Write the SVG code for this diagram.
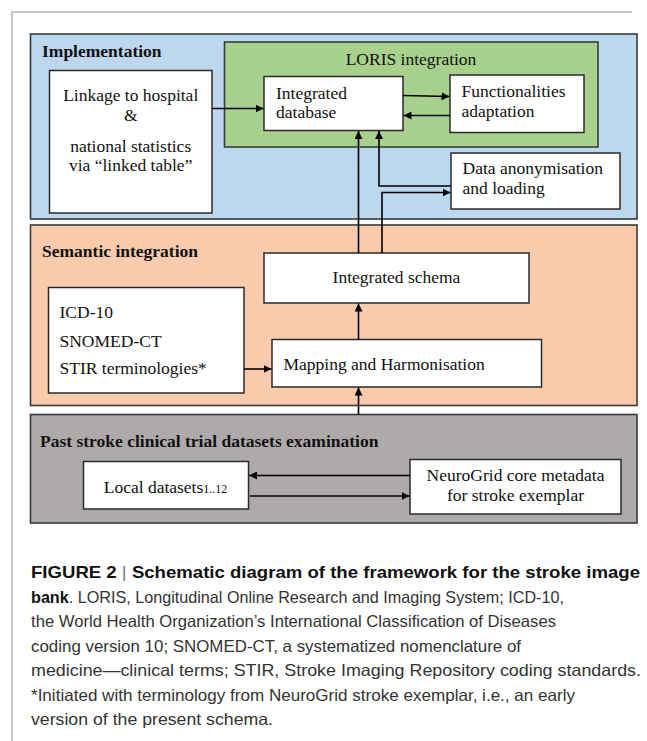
<svg xmlns="http://www.w3.org/2000/svg" width="647" height="741" viewBox="0 0 647 741">
<defs>
<marker id="ah" viewBox="0 0 10 10" refX="10" refY="5" markerWidth="8" markerHeight="8" markerUnits="userSpaceOnUse" orient="auto">
<path d="M0,0 L10,5 L0,10 z" fill="#000"/>
</marker>
</defs>
<style>
.panel{stroke:#3a3a3a;stroke-width:1.6}
.box{fill:#fff;stroke:#2a2a2a;stroke-width:1.5}
.t{font-family:"Liberation Serif","Times New Roman",serif;font-size:17.5px;fill:#111}
.h{font-family:"Liberation Serif","Times New Roman",serif;font-size:17.5px;font-weight:bold;fill:#111}
.c{font-family:"Liberation Sans",Arial,sans-serif;font-size:16.5px;fill:#333}
.cb{font-weight:bold;fill:#111}
.ln{fill:none;stroke:#000;stroke-width:1.6}
</style>
<rect width="647" height="741" fill="#fff"/>
<path d="M12,741 V12 H632" fill="none" stroke="#b4b4b4" stroke-width="1.5"/>

<g id="implementation">
<rect class="panel" x="30.5" y="34" width="606.5" height="185" fill="#bdd7ee"/>
<text class="h" x="42" y="57">Implementation</text>
</g>
<g id="loris">
<rect class="panel" x="224.5" y="42" width="373.5" height="105" fill="#a9d18e"/>
<text class="t" x="411" y="65" text-anchor="middle">LORIS integration</text>
</g>
<g id="linkage">
<rect class="box" x="49.5" y="70.5" width="162.5" height="142.5"/>
<text class="t" x="130.7" y="101" text-anchor="middle">Linkage to hospital</text>
<text class="t" x="130.7" y="121" text-anchor="middle">&amp;</text>
<text class="t" x="130.7" y="152" text-anchor="middle">national statistics</text>
<text class="t" x="130.7" y="171" text-anchor="middle">via “linked table”</text>
</g>
<g id="integrated-database">
<rect class="box" x="264" y="76.5" width="139" height="54"/>
<text class="t" x="276" y="99">Integrated</text>
<text class="t" x="276" y="118">database</text>
</g>
<g id="functionalities">
<rect class="box" x="450" y="75" width="134" height="57.5"/>
<text class="t" x="461.5" y="97">Functionalities</text>
<text class="t" x="461.5" y="117">adaptation</text>
</g>
<g id="anonymisation">
<rect class="box" x="451" y="153" width="169" height="56"/>
<text class="t" x="462.5" y="174">Data anonymisation</text>
<text class="t" x="462.5" y="194">and loading</text>
</g>

<g id="semantic">
<rect class="panel" x="30.5" y="225" width="606.5" height="180.5" fill="#f8cbad"/>
<text class="h" x="42" y="257">Semantic integration</text>
</g>
<g id="schema">
<rect class="box" x="264" y="253" width="265" height="50"/>
<text class="t" x="396.5" y="283" text-anchor="middle">Integrated schema</text>
</g>
<g id="terminologies">
<rect class="box" x="48.5" y="287.5" width="195.5" height="105.5"/>
<text class="t" x="59.5" y="318">ICD-10</text>
<text class="t" x="59.5" y="346.5">SNOMED-CT</text>
<text class="t" x="59.5" y="374">STIR terminologies*</text>
</g>
<g id="mapping">
<rect class="box" x="272" y="339.5" width="269.5" height="47.5"/>
<text class="t" x="283.5" y="370">Mapping and Harmonisation</text>
</g>

<g id="past">
<rect class="panel" x="30.5" y="414.5" width="606.5" height="108.5" fill="#aeaaaa"/>
<text class="h" x="40" y="447">Past stroke clinical trial datasets examination</text>
</g>
<g id="local">
<rect class="box" x="83.5" y="461.5" width="165" height="47.5"/>
<text class="t" x="165.5" y="493" text-anchor="middle">Local datasets<tspan font-size="12px">1..12</tspan></text>
</g>
<g id="neurogrid">
<rect class="box" x="410" y="459.5" width="211" height="54.5"/>
<text class="t" x="515.5" y="481" text-anchor="middle">NeuroGrid core metadata</text>
<text class="t" x="515.5" y="501" text-anchor="middle">for stroke exemplar</text>
</g>

<g id="connectors">
<line class="ln" x1="212" y1="108.5" x2="263.5" y2="108.5" marker-end="url(#ah)"/>
<line class="ln" x1="403" y1="95.5" x2="449.5" y2="96.5" marker-end="url(#ah)"/>
<line class="ln" x1="450" y1="115.5" x2="403.5" y2="115.5" marker-end="url(#ah)"/>
<line class="ln" x1="358.5" y1="253" x2="358.5" y2="131" marker-end="url(#ah)"/>
<polyline class="ln" points="451,186 379,186 379,131" marker-end="url(#ah)"/>
<polyline class="ln" points="382,253 382,192.5 450.5,192.5" marker-end="url(#ah)"/>
<line class="ln" x1="358.5" y1="339.5" x2="358.5" y2="303.5" marker-end="url(#ah)"/>
<line class="ln" x1="244" y1="369" x2="271.5" y2="369" marker-end="url(#ah)"/>
<line class="ln" x1="358.5" y1="414.5" x2="358.5" y2="387.5" marker-end="url(#ah)"/>
<line class="ln" x1="410" y1="475.5" x2="249" y2="475.5" marker-end="url(#ah)"/>
<line class="ln" x1="250" y1="496" x2="409.5" y2="496" marker-end="url(#ah)"/>
</g>

<g id="caption">
<text class="c cb" x="31" y="578" textLength="609" lengthAdjust="spacingAndGlyphs">FIGURE 2 <tspan font-weight="normal" fill="#777">|</tspan> Schematic diagram of the framework for the stroke image</text>
<text class="c" x="31" y="602.5" textLength="533" lengthAdjust="spacingAndGlyphs"><tspan class="cb">bank</tspan>. LORIS, Longitudinal Online Research and Imaging System; ICD-10,</text>
<text class="c" x="31" y="627" textLength="525" lengthAdjust="spacingAndGlyphs">the World Health Organization’s International Classification of Diseases</text>
<text class="c" x="31" y="651.5" textLength="490" lengthAdjust="spacingAndGlyphs">coding version 10; SNOMED-CT, a systematized nomenclature of</text>
<text class="c" x="31" y="676" textLength="610" lengthAdjust="spacingAndGlyphs">medicine—clinical terms; STIR, Stroke Imaging Repository coding standards.</text>
<text class="c" x="31" y="700.5" textLength="544" lengthAdjust="spacingAndGlyphs">*Initiated with terminology from NeuroGrid stroke exemplar, i.e., an early</text>
<text class="c" x="31" y="725" textLength="242" lengthAdjust="spacingAndGlyphs">version of the present schema.</text>
</g>
</svg>
